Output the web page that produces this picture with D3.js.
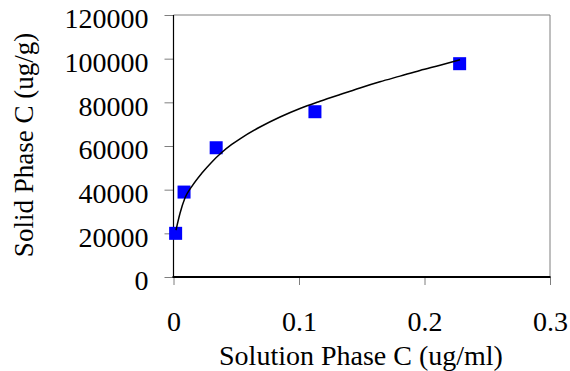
<!DOCTYPE html>
<html>
<head>
<meta charset="utf-8">
<script src="https://cdn.jsdelivr.net/npm/d3@7"></script>
<style>
  html, body { margin: 0; padding: 0; background: #fff; }
  svg { display: block; }
  text { font-family: "Liberation Serif", "Times New Roman", serif; fill: #000; }
</style>
</head>
<body>
<div id="chart"></div>
<script>
// Measured data (solution phase C in ug/ml, solid phase C in ug/g)
const solutionC = [0.0017, 0.0084, 0.034, 0.1127, 0.228];
const solidC = [20000, 38900, 59200, 75700, 97700];

// Fitted curve
const curveX = [0.0020, 0.0052, 0.0092, 0.0145, 0.0225, 0.0304, 0.0384, 0.0464, 0.0530, 0.0689, 0.0849, 0.1008, 0.1167, 0.1327, 0.1486, 0.1645, 0.1805, 0.1964, 0.2124, 0.2283];
const curveY = [21500, 29200, 36300, 41400, 47500, 52600, 57000, 60700, 63300, 68700, 73300, 77200, 80500, 83600, 86600, 89400, 92000, 94600, 97000, 99500];

const xTicks = [0, 0.1, 0.2, 0.3];
const xTickLabels = ["0", "0.1", "0.2", "0.3"];
const yTicks = [0, 20000, 40000, 60000, 80000, 100000, 120000];
const yTickLabels = ["0", "20000", "40000", "60000", "80000", "100000", "120000"];

const xTitle = "Solution Phase C (ug/ml)";
const yTitle = "Solid Phase C (ug/g)";

const W = 570, H = 371;
const L = 173.5, R = 550, T = 15, B = 277;

const svg = d3.select("#chart").append("svg").attr("width", W).attr("height", H);

const x = d3.scaleLinear().domain([0, 0.3]).range([L, R]);
const y = d3.scaleLinear().domain([0, 120000]).range([B, T]);

// Frame: top and right grey
svg.append("line").attr("x1", L).attr("x2", R).attr("y1", T).attr("y2", T)
  .attr("stroke", "#7f7f7f").attr("stroke-width", 1);
svg.append("line").attr("x1", R).attr("x2", R).attr("y1", T).attr("y2", B)
  .attr("stroke", "#7f7f7f").attr("stroke-width", 1);

// Y axis
const yAxis = svg.append("g").attr("transform", `translate(${L},0)`)
  .call(d3.axisLeft(y).tickValues(yTicks).tickFormat((d, i) => yTickLabels[i])
    .tickSize(9).tickSizeOuter(0).tickPadding(16));
yAxis.select(".domain").remove();
yAxis.selectAll(".tick line").attr("stroke", "#7f7f7f");
yAxis.selectAll(".tick text").attr("font-size", 28).attr("dy", "0.46em")
  .style("font-family", "'Liberation Serif', serif").attr("fill", "#000");

// X axis
const xAxis = svg.append("g").attr("transform", `translate(0,${B})`)
  .call(d3.axisBottom(x).tickValues(xTicks).tickFormat((d, i) => xTickLabels[i])
    .tickSize(8).tickSizeOuter(0));
xAxis.select(".domain").remove();
xAxis.selectAll(".tick line").attr("stroke", "#7f7f7f");
xAxis.selectAll(".tick text").attr("font-size", 28).attr("y", 54).attr("dy", 0)
  .style("font-family", "'Liberation Serif', serif").attr("fill", "#000");

// Axis lines
svg.append("line").attr("x1", L).attr("x2", L).attr("y1", T).attr("y2", B)
  .attr("stroke", "#000").attr("stroke-width", 1.2);
svg.append("line").attr("x1", L - 1).attr("x2", R + 0.5).attr("y1", B).attr("y2", B)
  .attr("stroke", "#000").attr("stroke-width", 2);

// Markers
const ms = 13;
svg.append("g").selectAll("rect").data(solutionC).join("rect")
  .attr("x", (d) => x(d) - ms / 2)
  .attr("y", (d, i) => y(solidC[i]) - ms / 2)
  .attr("width", ms).attr("height", ms)
  .attr("fill", "#0000ff");

// Curve
const line = d3.line().x((d) => x(d[0])).y((d) => y(d[1])).curve(d3.curveMonotoneX);
svg.append("path").datum(curveX.map((d, i) => [d, curveY[i]]))
  .attr("d", line).attr("fill", "none").attr("stroke", "#000").attr("stroke-width", 1.5);

// Titles
svg.append("text").attr("x", 361).attr("y", 365).attr("text-anchor", "middle")
  .attr("font-size", 28).text(xTitle);
svg.append("text").attr("transform", `translate(33,145) rotate(-90)`)
  .attr("text-anchor", "middle").attr("font-size", 27).text(yTitle);
</script>
</body>
</html>
